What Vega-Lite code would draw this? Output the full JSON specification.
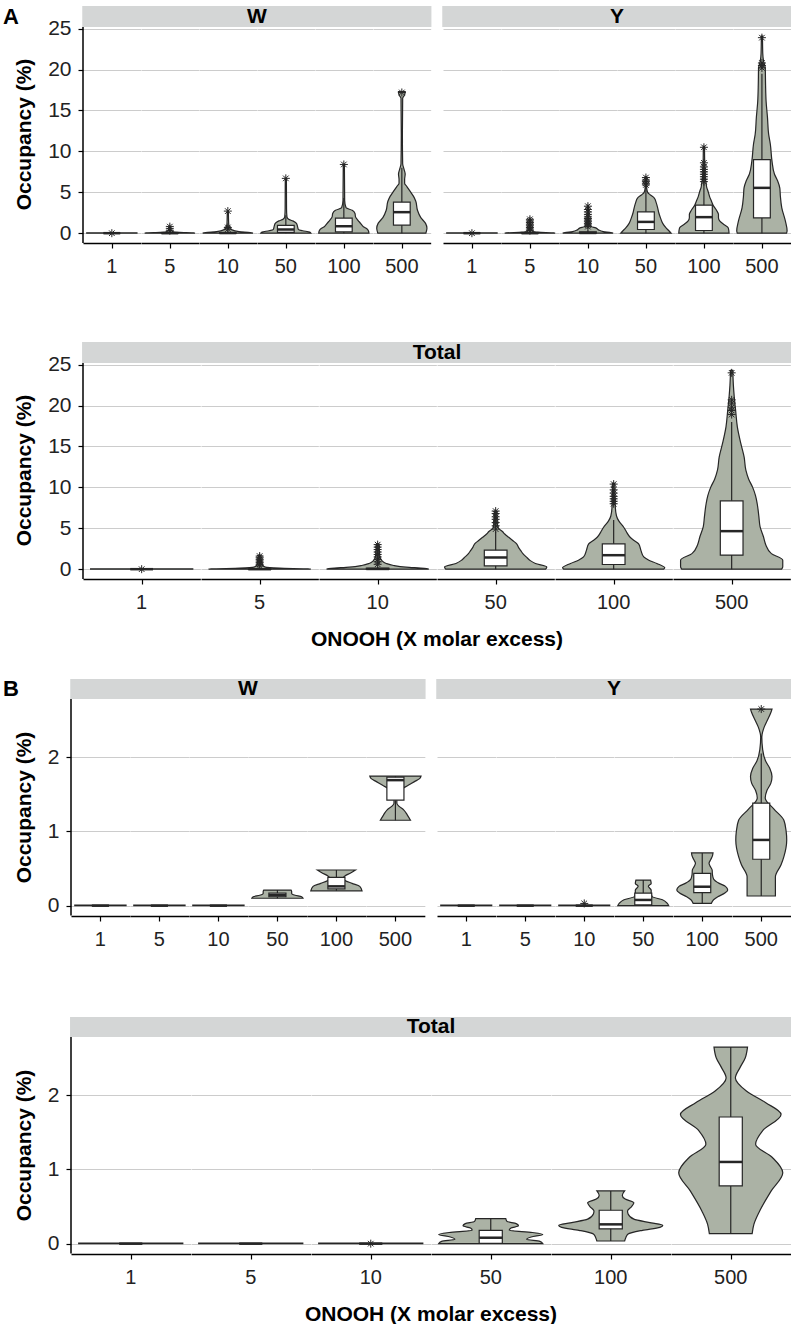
{
"$schema":"https://vega.github.io/schema/vega-lite/v6.json",
"padding":{"left":0,"top":5,"right":0,"bottom":0},
"background":"white",
"config":{"font":"Liberation Sans","view":{"stroke":null},"header":{"labelOrient":"bottom","labelFontSize":20,"labelColor":"#222","labelPadding":8,"titleOrient":"bottom","titleFontSize":21,"titleFontWeight":"bold","titleColor":"#000","titlePadding":6}},
"datasets":{
"aw":[
{"k":"s","g":"1"},{"k":"s","g":"5"},{"k":"s","g":"10"},{"k":"s","g":"50","t":"W"},{"k":"s","g":"100"},{"k":"s","g":"500"},
{"k":"v","g":"1","v":0,"d":0.9},{"k":"v","g":"1","v":0.05,"d":0.9},
{"k":"v","g":"5","v":0,"d":0.9},{"k":"v","g":"5","v":0.04,"d":0.85},{"k":"v","g":"5","v":0.1,"d":0.35},{"k":"v","g":"5","v":0.2,"d":0.1},{"k":"v","g":"5","v":0.4,"d":0.04},{"k":"v","g":"5","v":0.8,"d":0.02},
{"k":"v","g":"10","v":0,"d":0.9},{"k":"v","g":"10","v":0.08,"d":0.8},{"k":"v","g":"10","v":0.2,"d":0.4},{"k":"v","g":"10","v":0.4,"d":0.15},{"k":"v","g":"10","v":0.7,"d":0.06},{"k":"v","g":"10","v":1.2,"d":0.03},{"k":"v","g":"10","v":2.7,"d":0.02},
{"k":"v","g":"50","v":0,"d":0.9},{"k":"v","g":"50","v":0.15,"d":0.85},{"k":"v","g":"50","v":0.3,"d":0.6},{"k":"v","g":"50","v":0.45,"d":0.45},{"k":"v","g":"50","v":0.8,"d":0.42},{"k":"v","g":"50","v":1.2,"d":0.38},{"k":"v","g":"50","v":1.5,"d":0.25},{"k":"v","g":"50","v":1.7,"d":0.1},{"k":"v","g":"50","v":2.0,"d":0.04},{"k":"v","g":"50","v":3,"d":0.025},{"k":"v","g":"50","v":6.7,"d":0.02},
{"k":"v","g":"100","v":0,"d":0.9},{"k":"v","g":"100","v":0.3,"d":0.88},{"k":"v","g":"100","v":0.6,"d":0.8},{"k":"v","g":"100","v":0.8,"d":0.7},{"k":"v","g":"100","v":1.2,"d":0.6},{"k":"v","g":"100","v":1.6,"d":0.5},{"k":"v","g":"100","v":2.0,"d":0.42},{"k":"v","g":"100","v":2.4,"d":0.4},{"k":"v","g":"100","v":2.8,"d":0.3},{"k":"v","g":"100","v":3.1,"d":0.08},{"k":"v","g":"100","v":4,"d":0.03},{"k":"v","g":"100","v":8.4,"d":0.02},
{"k":"v","g":"500","v":0,"d":0.86},{"k":"v","g":"500","v":0.6,"d":0.9},{"k":"v","g":"500","v":1.2,"d":0.85},{"k":"v","g":"500","v":1.9,"d":0.68},{"k":"v","g":"500","v":2.8,"d":0.56},{"k":"v","g":"500","v":3.9,"d":0.5},{"k":"v","g":"500","v":4.5,"d":0.42},{"k":"v","g":"500","v":5.1,"d":0.3},{"k":"v","g":"500","v":5.7,"d":0.18},{"k":"v","g":"500","v":6.1,"d":0.1},{"k":"v","g":"500","v":6.6,"d":0.1},{"k":"v","g":"500","v":7.2,"d":0.12},{"k":"v","g":"500","v":7.8,"d":0.08},{"k":"v","g":"500","v":8.5,"d":0.03},{"k":"v","g":"500","v":12,"d":0.02},{"k":"v","g":"500","v":16.5,"d":0.03},{"k":"v","g":"500","v":16.9,"d":0.1},{"k":"v","g":"500","v":17.3,"d":0.12},
{"k":"b","g":"1","q1":0,"med":0,"q3":0,"lo":0,"hi":0},{"k":"b","g":"5","q1":0,"med":0,"q3":0.02,"lo":0,"hi":0.05},{"k":"b","g":"10","q1":0,"med":0.02,"q3":0.08,"lo":0,"hi":0.2},{"k":"b","g":"50","q1":0.1,"med":0.45,"q3":0.95,"lo":0,"hi":2.2},{"k":"b","g":"100","q1":0.15,"med":0.85,"q3":1.85,"lo":0,"hi":4.3},{"k":"b","g":"500","q1":0.98,"med":2.57,"q3":3.8,"lo":0,"hi":8.0},
{"k":"o","g":"1","v":0},{"k":"o","g":"5","v":0.3},{"k":"o","g":"5","v":0.55},{"k":"o","g":"5","v":0.8},{"k":"o","g":"10","v":0.5},{"k":"o","g":"10","v":0.7},{"k":"o","g":"10","v":2.7},{"k":"o","g":"50","v":6.7},{"k":"o","g":"100","v":8.4},{"k":"o","g":"500","v":17.2}
],
"ay":[
{"k":"s","g":"1"},{"k":"s","g":"5"},{"k":"s","g":"10"},{"k":"s","g":"50","t":"Y"},{"k":"s","g":"100"},{"k":"s","g":"500"},
{"k":"v","g":"1","v":0,"d":0.9},{"k":"v","g":"1","v":0.05,"d":0.9},
{"k":"v","g":"5","v":0,"d":0.9},{"k":"v","g":"5","v":0.04,"d":0.85},{"k":"v","g":"5","v":0.12,"d":0.3},{"k":"v","g":"5","v":0.25,"d":0.1},{"k":"v","g":"5","v":0.6,"d":0.04},{"k":"v","g":"5","v":1.7,"d":0.02},
{"k":"v","g":"10","v":0,"d":0.9},{"k":"v","g":"10","v":0.08,"d":0.82},{"k":"v","g":"10","v":0.2,"d":0.55},{"k":"v","g":"10","v":0.4,"d":0.38},{"k":"v","g":"10","v":0.65,"d":0.28},{"k":"v","g":"10","v":0.8,"d":0.12},{"k":"v","g":"10","v":1.2,"d":0.05},{"k":"v","g":"10","v":2,"d":0.03},{"k":"v","g":"10","v":3.4,"d":0.02},
{"k":"v","g":"50","v":0,"d":0.9},{"k":"v","g":"50","v":0.3,"d":0.82},{"k":"v","g":"50","v":0.65,"d":0.72},{"k":"v","g":"50","v":1.2,"d":0.6},{"k":"v","g":"50","v":1.87,"d":0.52},{"k":"v","g":"50","v":2.5,"d":0.46},{"k":"v","g":"50","v":3.1,"d":0.42},{"k":"v","g":"50","v":3.7,"d":0.37},{"k":"v","g":"50","v":4.3,"d":0.3},{"k":"v","g":"50","v":4.7,"d":0.15},{"k":"v","g":"50","v":5.0,"d":0.06},{"k":"v","g":"50","v":5.5,"d":0.03},{"k":"v","g":"50","v":6.9,"d":0.02},
{"k":"v","g":"100","v":0,"d":0.9},{"k":"v","g":"100","v":0.65,"d":0.87},{"k":"v","g":"100","v":1.1,"d":0.7},{"k":"v","g":"100","v":1.47,"d":0.57},{"k":"v","g":"100","v":1.9,"d":0.52},{"k":"v","g":"100","v":2.3,"d":0.52},{"k":"v","g":"100","v":2.8,"d":0.45},{"k":"v","g":"100","v":3.4,"d":0.33},{"k":"v","g":"100","v":3.9,"d":0.27},{"k":"v","g":"100","v":4.5,"d":0.2},{"k":"v","g":"100","v":5.1,"d":0.15},{"k":"v","g":"100","v":5.6,"d":0.1},{"k":"v","g":"100","v":6.1,"d":0.08},{"k":"v","g":"100","v":7,"d":0.04},{"k":"v","g":"100","v":10.6,"d":0.02},
{"k":"v","g":"500","v":0,"d":0.88},{"k":"v","g":"500","v":0.3,"d":0.9},{"k":"v","g":"500","v":1.47,"d":0.84},{"k":"v","g":"500","v":3.1,"d":0.71},{"k":"v","g":"500","v":4.5,"d":0.66},{"k":"v","g":"500","v":5.5,"d":0.64},{"k":"v","g":"500","v":6.4,"d":0.56},{"k":"v","g":"500","v":7.2,"d":0.45},{"k":"v","g":"500","v":8.8,"d":0.36},{"k":"v","g":"500","v":10.9,"d":0.3},{"k":"v","g":"500","v":12.1,"d":0.24},{"k":"v","g":"500","v":14.1,"d":0.2},{"k":"v","g":"500","v":16.1,"d":0.15},{"k":"v","g":"500","v":18.2,"d":0.13},{"k":"v","g":"500","v":20.2,"d":0.12},{"k":"v","g":"500","v":21,"d":0.06},{"k":"v","g":"500","v":22,"d":0.03},{"k":"v","g":"500","v":24.1,"d":0.02},
{"k":"b","g":"1","q1":0,"med":0,"q3":0,"lo":0,"hi":0},{"k":"b","g":"5","q1":0,"med":0,"q3":0.05,"lo":0,"hi":0.1},{"k":"b","g":"10","q1":0,"med":0.03,"q3":0.15,"lo":0,"hi":0.35},{"k":"b","g":"50","q1":0.45,"med":1.38,"q3":2.6,"lo":0,"hi":5.8},{"k":"b","g":"100","q1":0.33,"med":1.96,"q3":3.42,"lo":0,"hi":6.2},{"k":"b","g":"500","q1":1.87,"med":5.54,"q3":9.0,"lo":0,"hi":19.5},
{"k":"o","g":"1","v":0},
{"k":"o","g":"5","v":0.3},{"k":"o","g":"5","v":0.5},{"k":"o","g":"5","v":0.7},{"k":"o","g":"5","v":0.9},{"k":"o","g":"5","v":1.1},{"k":"o","g":"5","v":1.3},{"k":"o","g":"5","v":1.5},{"k":"o","g":"5","v":1.7},
{"k":"o","g":"10","v":0.8},{"k":"o","g":"10","v":1.0},{"k":"o","g":"10","v":1.2},{"k":"o","g":"10","v":1.4},{"k":"o","g":"10","v":1.6},{"k":"o","g":"10","v":1.8},{"k":"o","g":"10","v":2.0},{"k":"o","g":"10","v":2.3},{"k":"o","g":"10","v":2.6},{"k":"o","g":"10","v":2.9},{"k":"o","g":"10","v":3.3},
{"k":"o","g":"50","v":5.9},{"k":"o","g":"50","v":6.1},{"k":"o","g":"50","v":6.3},{"k":"o","g":"50","v":6.5},{"k":"o","g":"50","v":6.8},
{"k":"o","g":"100","v":6.3},{"k":"o","g":"100","v":6.6},{"k":"o","g":"100","v":6.9},{"k":"o","g":"100","v":7.2},{"k":"o","g":"100","v":7.5},{"k":"o","g":"100","v":7.8},{"k":"o","g":"100","v":8.1},{"k":"o","g":"100","v":8.6},{"k":"o","g":"100","v":10.5},
{"k":"o","g":"500","v":20.2},{"k":"o","g":"500","v":20.5},{"k":"o","g":"500","v":20.8},{"k":"o","g":"500","v":23.9}
],
"at":[
{"k":"s","g":"1"},{"k":"s","g":"5"},{"k":"s","g":"10"},{"k":"s","g":"50","t":"Total"},{"k":"s","g":"100"},{"k":"s","g":"500"},
{"k":"v","g":"1","v":0,"d":0.9},{"k":"v","g":"1","v":0.05,"d":0.9},
{"k":"v","g":"5","v":0,"d":0.9},{"k":"v","g":"5","v":0.04,"d":0.85},{"k":"v","g":"5","v":0.12,"d":0.35},{"k":"v","g":"5","v":0.25,"d":0.1},{"k":"v","g":"5","v":0.5,"d":0.05},{"k":"v","g":"5","v":1.0,"d":0.03},{"k":"v","g":"5","v":1.7,"d":0.02},
{"k":"v","g":"10","v":0,"d":0.9},{"k":"v","g":"10","v":0.1,"d":0.82},{"k":"v","g":"10","v":0.25,"d":0.5},{"k":"v","g":"10","v":0.45,"d":0.28},{"k":"v","g":"10","v":0.7,"d":0.15},{"k":"v","g":"10","v":1.0,"d":0.08},{"k":"v","g":"10","v":1.5,"d":0.04},{"k":"v","g":"10","v":2.2,"d":0.03},{"k":"v","g":"10","v":3.1,"d":0.02},
{"k":"v","g":"50","v":0,"d":0.88},{"k":"v","g":"50","v":0.28,"d":0.9},{"k":"v","g":"50","v":0.7,"d":0.7},{"k":"v","g":"50","v":1.1,"d":0.6},{"k":"v","g":"50","v":1.5,"d":0.54},{"k":"v","g":"50","v":1.9,"d":0.48},{"k":"v","g":"50","v":2.3,"d":0.44},{"k":"v","g":"50","v":2.7,"d":0.4},{"k":"v","g":"50","v":3.1,"d":0.37},{"k":"v","g":"50","v":3.5,"d":0.3},{"k":"v","g":"50","v":3.9,"d":0.23},{"k":"v","g":"50","v":4.3,"d":0.16},{"k":"v","g":"50","v":4.6,"d":0.12},{"k":"v","g":"50","v":5.0,"d":0.05},{"k":"v","g":"50","v":5.5,"d":0.03},{"k":"v","g":"50","v":7.1,"d":0.02},
{"k":"v","g":"100","v":0,"d":0.88},{"k":"v","g":"100","v":0.16,"d":0.9},{"k":"v","g":"100","v":0.7,"d":0.76},{"k":"v","g":"100","v":1.1,"d":0.62},{"k":"v","g":"100","v":1.5,"d":0.53},{"k":"v","g":"100","v":2.3,"d":0.48},{"k":"v","g":"100","v":3.1,"d":0.44},{"k":"v","g":"100","v":3.5,"d":0.36},{"k":"v","g":"100","v":3.9,"d":0.29},{"k":"v","g":"100","v":4.5,"d":0.23},{"k":"v","g":"100","v":5.1,"d":0.18},{"k":"v","g":"100","v":5.9,"d":0.09},{"k":"v","g":"100","v":6.5,"d":0.05},{"k":"v","g":"100","v":7.5,"d":0.03},{"k":"v","g":"100","v":10.5,"d":0.02},
{"k":"v","g":"500","v":0,"d":0.88},{"k":"v","g":"500","v":0.3,"d":0.9},{"k":"v","g":"500","v":1.1,"d":0.9},{"k":"v","g":"500","v":1.9,"d":0.7},{"k":"v","g":"500","v":3.0,"d":0.6},{"k":"v","g":"500","v":3.96,"d":0.56},{"k":"v","g":"500","v":5.2,"d":0.5},{"k":"v","g":"500","v":6.4,"d":0.48},{"k":"v","g":"500","v":8.0,"d":0.45},{"k":"v","g":"500","v":9.0,"d":0.42},{"k":"v","g":"500","v":10.0,"d":0.37},{"k":"v","g":"500","v":11.0,"d":0.3},{"k":"v","g":"500","v":12.1,"d":0.25},{"k":"v","g":"500","v":13.7,"d":0.22},{"k":"v","g":"500","v":15.4,"d":0.16},{"k":"v","g":"500","v":17.4,"d":0.1},{"k":"v","g":"500","v":19.4,"d":0.07},{"k":"v","g":"500","v":21.1,"d":0.045},{"k":"v","g":"500","v":22.5,"d":0.03},{"k":"v","g":"500","v":24.3,"d":0.02},
{"k":"b","g":"1","q1":0,"med":0,"q3":0,"lo":0,"hi":0},{"k":"b","g":"5","q1":0,"med":0,"q3":0.03,"lo":0,"hi":0.08},{"k":"b","g":"10","q1":0,"med":0.03,"q3":0.12,"lo":0,"hi":0.3},{"k":"b","g":"50","q1":0.4,"med":1.43,"q3":2.32,"lo":0,"hi":4.6},{"k":"b","g":"100","q1":0.57,"med":1.71,"q3":3.1,"lo":0,"hi":6.0},{"k":"b","g":"500","q1":1.72,"med":4.65,"q3":8.36,"lo":0,"hi":18.0},
{"k":"o","g":"1","v":0},
{"k":"o","g":"5","v":0.4},{"k":"o","g":"5","v":0.6},{"k":"o","g":"5","v":0.8},{"k":"o","g":"5","v":1.0},{"k":"o","g":"5","v":1.2},{"k":"o","g":"5","v":1.4},{"k":"o","g":"5","v":1.6},
{"k":"o","g":"10","v":0.6},{"k":"o","g":"10","v":0.9},{"k":"o","g":"10","v":1.2},{"k":"o","g":"10","v":1.5},{"k":"o","g":"10","v":1.8},{"k":"o","g":"10","v":2.1},{"k":"o","g":"10","v":2.4},{"k":"o","g":"10","v":2.7},{"k":"o","g":"10","v":3.0},
{"k":"o","g":"50","v":4.9},{"k":"o","g":"50","v":5.3},{"k":"o","g":"50","v":5.7},{"k":"o","g":"50","v":6.1},{"k":"o","g":"50","v":6.4},{"k":"o","g":"50","v":6.8},{"k":"o","g":"50","v":7.1},
{"k":"o","g":"100","v":8.0},{"k":"o","g":"100","v":8.3},{"k":"o","g":"100","v":8.6},{"k":"o","g":"100","v":8.9},{"k":"o","g":"100","v":9.3},{"k":"o","g":"100","v":9.7},{"k":"o","g":"100","v":10.4},
{"k":"o","g":"500","v":18.9},{"k":"o","g":"500","v":19.4},{"k":"o","g":"500","v":19.8},{"k":"o","g":"500","v":20.3},{"k":"o","g":"500","v":20.7},{"k":"o","g":"500","v":24.0}
],
"bw":[
{"k":"s","g":"1"},{"k":"s","g":"5"},{"k":"s","g":"10"},{"k":"s","g":"50","t":"W"},{"k":"s","g":"100"},{"k":"s","g":"500"},
{"k":"v","g":"1","v":0,"d":0.9},{"k":"v","g":"1","v":0.006,"d":0.9},
{"k":"v","g":"5","v":0,"d":0.9},{"k":"v","g":"5","v":0.006,"d":0.9},
{"k":"v","g":"10","v":0,"d":0.9},{"k":"v","g":"10","v":0.006,"d":0.9},
{"k":"v","g":"50","v":0.1,"d":0.9},{"k":"v","g":"50","v":0.12,"d":0.85},{"k":"v","g":"50","v":0.14,"d":0.62},{"k":"v","g":"50","v":0.165,"d":0.5},{"k":"v","g":"50","v":0.19,"d":0.5},{"k":"v","g":"50","v":0.21,"d":0.48},
{"k":"v","g":"100","v":0.2,"d":0.9},{"k":"v","g":"100","v":0.26,"d":0.82},{"k":"v","g":"100","v":0.3,"d":0.55},{"k":"v","g":"100","v":0.34,"d":0.3},{"k":"v","g":"100","v":0.37,"d":0.23},{"k":"v","g":"100","v":0.4,"d":0.3},{"k":"v","g":"100","v":0.44,"d":0.5},{"k":"v","g":"100","v":0.48,"d":0.67},
{"k":"v","g":"500","v":1.15,"d":0.53},{"k":"v","g":"500","v":1.22,"d":0.42},{"k":"v","g":"500","v":1.29,"d":0.29},{"k":"v","g":"500","v":1.34,"d":0.12},{"k":"v","g":"500","v":1.38,"d":0.05},{"k":"v","g":"500","v":1.45,"d":0.05},{"k":"v","g":"500","v":1.5,"d":0.1},{"k":"v","g":"500","v":1.56,"d":0.18},{"k":"v","g":"500","v":1.62,"d":0.45},{"k":"v","g":"500","v":1.67,"d":0.67},{"k":"v","g":"500","v":1.71,"d":0.85},{"k":"v","g":"500","v":1.745,"d":0.9},
{"k":"b","g":"1","q1":0,"med":0,"q3":0,"lo":0,"hi":0},{"k":"b","g":"5","q1":0,"med":0,"q3":0,"lo":0,"hi":0},{"k":"b","g":"10","q1":0,"med":0,"q3":0,"lo":0,"hi":0},{"k":"b","g":"50","q1":0.12,"med":0.14,"q3":0.17,"lo":0.1,"hi":0.21},{"k":"b","g":"100","q1":0.225,"med":0.26,"q3":0.38,"lo":0.2,"hi":0.48},{"k":"b","g":"500","q1":1.42,"med":1.69,"q3":1.73,"lo":1.15,"hi":1.745}
],
"by":[
{"k":"s","g":"1"},{"k":"s","g":"5"},{"k":"s","g":"10"},{"k":"s","g":"50","t":"Y"},{"k":"s","g":"100"},{"k":"s","g":"500"},
{"k":"v","g":"1","v":0,"d":0.9},{"k":"v","g":"1","v":0.006,"d":0.9},
{"k":"v","g":"5","v":0,"d":0.9},{"k":"v","g":"5","v":0.006,"d":0.9},
{"k":"v","g":"10","v":0,"d":0.9},{"k":"v","g":"10","v":0.006,"d":0.9},
{"k":"v","g":"50","v":0,"d":0.9},{"k":"v","g":"50","v":0.03,"d":0.85},{"k":"v","g":"50","v":0.08,"d":0.68},{"k":"v","g":"50","v":0.12,"d":0.32},{"k":"v","g":"50","v":0.16,"d":0.28},{"k":"v","g":"50","v":0.21,"d":0.28},{"k":"v","g":"50","v":0.26,"d":0.18},{"k":"v","g":"50","v":0.3,"d":0.28},{"k":"v","g":"50","v":0.345,"d":0.26},
{"k":"v","g":"100","v":0.03,"d":0.32},{"k":"v","g":"100","v":0.08,"d":0.4},{"k":"v","g":"100","v":0.12,"d":0.55},{"k":"v","g":"100","v":0.17,"d":0.8},{"k":"v","g":"100","v":0.21,"d":0.9},{"k":"v","g":"100","v":0.26,"d":0.82},{"k":"v","g":"100","v":0.3,"d":0.6},{"k":"v","g":"100","v":0.36,"d":0.4},{"k":"v","g":"100","v":0.42,"d":0.36},{"k":"v","g":"100","v":0.48,"d":0.35},{"k":"v","g":"100","v":0.53,"d":0.28},{"k":"v","g":"100","v":0.57,"d":0.24},{"k":"v","g":"100","v":0.62,"d":0.3},{"k":"v","g":"100","v":0.67,"d":0.36},{"k":"v","g":"100","v":0.71,"d":0.38},
{"k":"v","g":"500","v":0.13,"d":0.5},{"k":"v","g":"500","v":0.39,"d":0.5},{"k":"v","g":"500","v":0.55,"d":0.7},{"k":"v","g":"500","v":0.66,"d":0.8},{"k":"v","g":"500","v":0.885,"d":0.9},{"k":"v","g":"500","v":1.0,"d":0.88},{"k":"v","g":"500","v":1.15,"d":0.8},{"k":"v","g":"500","v":1.3,"d":0.45},{"k":"v","g":"500","v":1.45,"d":0.14},{"k":"v","g":"500","v":1.55,"d":0.2},{"k":"v","g":"500","v":1.65,"d":0.34},{"k":"v","g":"500","v":1.74,"d":0.38},{"k":"v","g":"500","v":1.85,"d":0.3},{"k":"v","g":"500","v":1.95,"d":0.15},{"k":"v","g":"500","v":2.1,"d":0.05},{"k":"v","g":"500","v":2.27,"d":0.02},{"k":"v","g":"500","v":2.4,"d":0.1},{"k":"v","g":"500","v":2.5,"d":0.22},{"k":"v","g":"500","v":2.6,"d":0.34},{"k":"v","g":"500","v":2.647,"d":0.38},
{"k":"b","g":"1","q1":0,"med":0,"q3":0,"lo":0,"hi":0},{"k":"b","g":"5","q1":0,"med":0,"q3":0,"lo":0,"hi":0},{"k":"b","g":"10","q1":0,"med":0,"q3":0,"lo":0,"hi":0},{"k":"b","g":"50","q1":0.01,"med":0.077,"q3":0.17,"lo":0,"hi":0.345},{"k":"b","g":"100","q1":0.175,"med":0.255,"q3":0.435,"lo":0.03,"hi":0.71},{"k":"b","g":"500","q1":0.625,"med":0.885,"q3":1.38,"lo":0.13,"hi":2.05},
{"k":"o","g":"10","v":0.03},{"k":"o","g":"500","v":2.647}
],
"bt":[
{"k":"s","g":"1"},{"k":"s","g":"5"},{"k":"s","g":"10"},{"k":"s","g":"50","t":"Total"},{"k":"s","g":"100"},{"k":"s","g":"500"},
{"k":"v","g":"1","v":0,"d":0.9},{"k":"v","g":"1","v":0.006,"d":0.9},
{"k":"v","g":"5","v":0,"d":0.9},{"k":"v","g":"5","v":0.006,"d":0.9},
{"k":"v","g":"10","v":0,"d":0.9},{"k":"v","g":"10","v":0.006,"d":0.9},
{"k":"v","g":"50","v":0,"d":0.9},{"k":"v","g":"50","v":0.03,"d":0.85},{"k":"v","g":"50","v":0.06,"d":0.62},{"k":"v","g":"50","v":0.09,"d":0.7},{"k":"v","g":"50","v":0.125,"d":0.9},{"k":"v","g":"50","v":0.15,"d":0.72},{"k":"v","g":"50","v":0.18,"d":0.32},{"k":"v","g":"50","v":0.21,"d":0.35},{"k":"v","g":"50","v":0.24,"d":0.48},{"k":"v","g":"50","v":0.27,"d":0.44},{"k":"v","g":"50","v":0.3,"d":0.28},{"k":"v","g":"50","v":0.336,"d":0.26},
{"k":"v","g":"100","v":0.036,"d":0.24},{"k":"v","g":"100","v":0.08,"d":0.26},{"k":"v","g":"100","v":0.13,"d":0.3},{"k":"v","g":"100","v":0.18,"d":0.55},{"k":"v","g":"100","v":0.22,"d":0.85},{"k":"v","g":"100","v":0.245,"d":0.9},{"k":"v","g":"100","v":0.28,"d":0.7},{"k":"v","g":"100","v":0.33,"d":0.4},{"k":"v","g":"100","v":0.4,"d":0.3},{"k":"v","g":"100","v":0.44,"d":0.29},{"k":"v","g":"100","v":0.5,"d":0.36},{"k":"v","g":"100","v":0.55,"d":0.4},{"k":"v","g":"100","v":0.6,"d":0.25},{"k":"v","g":"100","v":0.65,"d":0.2},{"k":"v","g":"100","v":0.71,"d":0.24},
{"k":"v","g":"500","v":0.135,"d":0.37},{"k":"v","g":"500","v":0.26,"d":0.4},{"k":"v","g":"500","v":0.44,"d":0.5},{"k":"v","g":"500","v":0.71,"d":0.7},{"k":"v","g":"500","v":0.955,"d":0.9},{"k":"v","g":"500","v":1.16,"d":0.72},{"k":"v","g":"500","v":1.34,"d":0.43},{"k":"v","g":"500","v":1.52,"d":0.55},{"k":"v","g":"500","v":1.74,"d":0.87},{"k":"v","g":"500","v":1.9,"d":0.6},{"k":"v","g":"500","v":2.055,"d":0.27},{"k":"v","g":"500","v":2.23,"d":0.08},{"k":"v","g":"500","v":2.37,"d":0.16},{"k":"v","g":"500","v":2.5,"d":0.25},{"k":"v","g":"500","v":2.647,"d":0.29},
{"k":"b","g":"1","q1":0,"med":0,"q3":0,"lo":0,"hi":0},{"k":"b","g":"5","q1":0,"med":0,"q3":0,"lo":0,"hi":0},{"k":"b","g":"10","q1":0,"med":0,"q3":0,"lo":0,"hi":0},{"k":"b","g":"50","q1":0.005,"med":0.08,"q3":0.18,"lo":0,"hi":0.336},{"k":"b","g":"100","q1":0.2,"med":0.26,"q3":0.45,"lo":0.036,"hi":0.71},{"k":"b","g":"500","q1":0.777,"med":1.1,"q3":1.705,"lo":0.135,"hi":2.647},
{"k":"o","g":"10","v":0}
]
},
"vconcat":[
{"title":{"text":"A","anchor":"start","orient":"top","fontSize":22,"fontWeight":"bold","color":"#000","dx":3,"baseline":"top","offset":-23},
 "spacing":12,
 "hconcat":[
 {"width":1,"height":1,"data":{"values":[{}]},"mark":{"type":"point","opacity":0,"size":0,"strokeWidth":0},"encoding":{}},
 {"spacing":64,
 "vconcat":[
  {"hconcat":[
   {"data":{"name":"aw"},"spacing":0,"bounds":"flush",
    "facet":{"column":{"field":"g","type":"ordinal","sort":["1","5","10","50","100","500"],"title":null}},
    "spec":{"width":57.67,"height":237,"layer":[
     {"transform":[{"filter":{"field":"k","equal":"s"}}],"mark":{"type":"rect","fill":"#d4d6d6"},"encoding":{"x":{"datum":-0.08,"type":"quantitative"},"x2":{"datum":0.98},"y":{"datum":25.2,"type":"quantitative"},"y2":{"datum":27.77}}},
     {"transform":[{"filter":{"field":"k","equal":"v"}}],"mark":{"type":"area","orient":"horizontal","fill":"#abb2a5","stroke":"#262626","strokeWidth":1.2,"interpolate":"monotone"},
      "encoding":{"x":{"field":"d","type":"quantitative","stack":"center","impute":null,"title":null,"scale":{"domain":[-0.0667,0.9667],"nice":false,"zero":false},"axis":{"values":[0.45],"labels":false,"ticks":true,"tickSize":5,"tickColor":"#000","tickWidth":1.2,"domain":true,"domainColor":"#000","domainWidth":1.5,"grid":false}},
       "y":{"field":"v","type":"quantitative","title":"Occupancy (%)","scale":{"domain":[-1.2,27.77],"nice":false,"zero":false},"axis":{"values":[0,5,10,15,20,25],"format":"d","grid":true,"gridColor":"#cccccc","domain":false,"tickSize":5,"tickColor":"#000","tickWidth":1.2,"labelFontSize":21,"labelColor":"#222","labelPadding":7,"titleFontSize":21,"titleFontWeight":"bold","titleColor":"#000","titlePadding":13,"titleY":128}}}},
     {"transform":[{"filter":{"field":"k","equal":"b"}}],"mark":{"type":"rule","color":"#262626","strokeWidth":1.2},"encoding":{"x":{"datum":0.45,"type":"quantitative"},"y":{"field":"lo","type":"quantitative","title":"Occupancy (%)"},"y2":{"field":"hi"}}},
     {"transform":[{"filter":{"field":"k","equal":"b"}}],"mark":{"type":"rect","fill":"white","stroke":"#262626","strokeWidth":1.2},"encoding":{"x":{"datum":0.3,"type":"quantitative"},"x2":{"datum":0.6},"y":{"field":"q1","type":"quantitative","title":"Occupancy (%)"},"y2":{"field":"q3"}}},
     {"transform":[{"filter":{"field":"k","equal":"b"}}],"mark":{"type":"rule","color":"#262626","strokeWidth":2.5},"encoding":{"x":{"datum":0.3,"type":"quantitative"},"x2":{"datum":0.6},"y":{"field":"med","type":"quantitative","title":"Occupancy (%)"}}},
     {"transform":[{"filter":{"field":"k","equal":"o"}}],"mark":{"type":"point","shape":"M0,-1L0,1M-1,0L1,0M-0.7,-0.7L0.7,0.7M-0.7,0.7L0.7,-0.7","size":64,"filled":false,"stroke":"#262626","strokeWidth":1,"opacity":1},"encoding":{"x":{"datum":0.45,"type":"quantitative"},"y":{"field":"v","type":"quantitative","title":"Occupancy (%)"}}},
     {"transform":[{"filter":{"field":"k","equal":"s"}},{"filter":{"field":"g","equal":"1"}}],"mark":{"type":"rule","color":"#000","strokeWidth":1.5},"encoding":{"x":{"datum":-0.0667,"type":"quantitative"},"y":{"datum":-1.2,"type":"quantitative"},"y2":{"datum":25.2}}},
     {"transform":[{"filter":{"field":"k","equal":"s"}},{"filter":{"field":"g","equal":"50"}}],"mark":{"type":"text","fontSize":21,"fontWeight":"bold","color":"#000","baseline":"middle","align":"center"},"encoding":{"x":{"datum":-0.0667,"type":"quantitative"},"y":{"datum":26.48,"type":"quantitative"},"text":{"field":"t"}}}
    ]}},
   {"data":{"name":"ay"},"spacing":0,"bounds":"flush",
    "facet":{"column":{"field":"g","type":"ordinal","sort":["1","5","10","50","100","500"],"title":null}},
    "spec":{"width":57.83,"height":237,"layer":[
     {"transform":[{"filter":{"field":"k","equal":"s"}}],"mark":{"type":"rect","fill":"#d4d6d6"},"encoding":{"x":{"datum":-0.08,"type":"quantitative"},"x2":{"datum":0.98},"y":{"datum":25.2,"type":"quantitative"},"y2":{"datum":27.77}}},
     {"transform":[{"filter":{"field":"k","equal":"v"}}],"mark":{"type":"area","orient":"horizontal","fill":"#abb2a5","stroke":"#262626","strokeWidth":1.2,"interpolate":"monotone"},
      "encoding":{"x":{"field":"d","type":"quantitative","stack":"center","impute":null,"title":null,"scale":{"domain":[-0.0667,0.9667],"nice":false,"zero":false},"axis":{"values":[0.45],"labels":false,"ticks":true,"tickSize":5,"tickColor":"#000","tickWidth":1.2,"domain":true,"domainColor":"#000","domainWidth":1.5,"grid":false}},
       "y":{"field":"v","type":"quantitative","title":null,"scale":{"domain":[-1.2,27.77],"nice":false,"zero":false},"axis":{"values":[0,5,10,15,20,25],"grid":true,"gridColor":"#cccccc","domain":false,"ticks":false,"labels":false,"minExtent":0}}}},
     {"transform":[{"filter":{"field":"k","equal":"b"}}],"mark":{"type":"rule","color":"#262626","strokeWidth":1.2},"encoding":{"x":{"datum":0.45,"type":"quantitative"},"y":{"field":"lo","type":"quantitative","title":null},"y2":{"field":"hi"}}},
     {"transform":[{"filter":{"field":"k","equal":"b"}}],"mark":{"type":"rect","fill":"white","stroke":"#262626","strokeWidth":1.2},"encoding":{"x":{"datum":0.3,"type":"quantitative"},"x2":{"datum":0.6},"y":{"field":"q1","type":"quantitative","title":null},"y2":{"field":"q3"}}},
     {"transform":[{"filter":{"field":"k","equal":"b"}}],"mark":{"type":"rule","color":"#262626","strokeWidth":2.5},"encoding":{"x":{"datum":0.3,"type":"quantitative"},"x2":{"datum":0.6},"y":{"field":"med","type":"quantitative","title":null}}},
     {"transform":[{"filter":{"field":"k","equal":"o"}}],"mark":{"type":"point","shape":"M0,-1L0,1M-1,0L1,0M-0.7,-0.7L0.7,0.7M-0.7,0.7L0.7,-0.7","size":64,"filled":false,"stroke":"#262626","strokeWidth":1,"opacity":1},"encoding":{"x":{"datum":0.45,"type":"quantitative"},"y":{"field":"v","type":"quantitative","title":null}}},
     {"transform":[{"filter":{"field":"k","equal":"s"}},{"filter":{"field":"g","equal":"50"}}],"mark":{"type":"text","fontSize":21,"fontWeight":"bold","color":"#000","baseline":"middle","align":"center"},"encoding":{"x":{"datum":-0.0667,"type":"quantitative"},"y":{"datum":26.48,"type":"quantitative"},"text":{"field":"t"}}}
    ]}}
  ],"spacing":10},
  {"data":{"name":"at"},"spacing":0,"bounds":"flush",
    "facet":{"column":{"field":"g","type":"ordinal","sort":["1","5","10","50","100","500"],"title":"ONOOH (X molar excess)"}},
    "spec":{"width":117.33,"height":237,"layer":[
     {"transform":[{"filter":{"field":"k","equal":"s"}}],"mark":{"type":"rect","fill":"#d4d6d6"},"encoding":{"x":{"datum":-0.075,"type":"quantitative"},"x2":{"datum":0.975},"y":{"datum":25.2,"type":"quantitative"},"y2":{"datum":27.77}}},
     {"transform":[{"filter":{"field":"k","equal":"v"}}],"mark":{"type":"area","orient":"horizontal","fill":"#abb2a5","stroke":"#262626","strokeWidth":1.2,"interpolate":"monotone"},
      "encoding":{"x":{"field":"d","type":"quantitative","stack":"center","impute":null,"title":null,"scale":{"domain":[-0.0667,0.9667],"nice":false,"zero":false},"axis":{"values":[0.45],"labels":false,"ticks":true,"tickSize":5,"tickColor":"#000","tickWidth":1.2,"domain":true,"domainColor":"#000","domainWidth":1.5,"grid":false}},
       "y":{"field":"v","type":"quantitative","title":"Occupancy (%)","scale":{"domain":[-1.2,27.77],"nice":false,"zero":false},"axis":{"values":[0,5,10,15,20,25],"format":"d","grid":true,"gridColor":"#cccccc","domain":false,"tickSize":5,"tickColor":"#000","tickWidth":1.2,"labelFontSize":21,"labelColor":"#222","labelPadding":7,"titleFontSize":21,"titleFontWeight":"bold","titleColor":"#000","titlePadding":13,"titleY":128}}}},
     {"transform":[{"filter":{"field":"k","equal":"b"}}],"mark":{"type":"rule","color":"#262626","strokeWidth":1.2},"encoding":{"x":{"datum":0.45,"type":"quantitative"},"y":{"field":"lo","type":"quantitative","title":"Occupancy (%)"},"y2":{"field":"hi"}}},
     {"transform":[{"filter":{"field":"k","equal":"b"}}],"mark":{"type":"rect","fill":"white","stroke":"#262626","strokeWidth":1.2},"encoding":{"x":{"datum":0.35,"type":"quantitative"},"x2":{"datum":0.55},"y":{"field":"q1","type":"quantitative","title":"Occupancy (%)"},"y2":{"field":"q3"}}},
     {"transform":[{"filter":{"field":"k","equal":"b"}}],"mark":{"type":"rule","color":"#262626","strokeWidth":2.5},"encoding":{"x":{"datum":0.35,"type":"quantitative"},"x2":{"datum":0.55},"y":{"field":"med","type":"quantitative","title":"Occupancy (%)"}}},
     {"transform":[{"filter":{"field":"k","equal":"o"}}],"mark":{"type":"point","shape":"M0,-1L0,1M-1,0L1,0M-0.7,-0.7L0.7,0.7M-0.7,0.7L0.7,-0.7","size":64,"filled":false,"stroke":"#262626","strokeWidth":1,"opacity":1},"encoding":{"x":{"datum":0.45,"type":"quantitative"},"y":{"field":"v","type":"quantitative","title":"Occupancy (%)"}}},
     {"transform":[{"filter":{"field":"k","equal":"s"}},{"filter":{"field":"g","equal":"1"}}],"mark":{"type":"rule","color":"#000","strokeWidth":1.5},"encoding":{"x":{"datum":-0.0667,"type":"quantitative"},"y":{"datum":-1.2,"type":"quantitative"},"y2":{"datum":25.2}}},
     {"transform":[{"filter":{"field":"k","equal":"s"}},{"filter":{"field":"g","equal":"50"}}],"mark":{"type":"text","fontSize":21,"fontWeight":"bold","color":"#000","baseline":"middle","align":"center"},"encoding":{"x":{"datum":-0.0667,"type":"quantitative"},"y":{"datum":26.48,"type":"quantitative"},"text":{"field":"t"}}}
    ]}}
 ]}]},
{"title":{"text":"B","anchor":"start","orient":"top","fontSize":22,"fontWeight":"bold","color":"#000","dx":3,"baseline":"top","offset":-23},
 "spacing":12,
 "hconcat":[
 {"width":1,"height":1,"data":{"values":[{}]},"mark":{"type":"point","opacity":0,"size":0,"strokeWidth":0},"encoding":{}},
 {"spacing":66,
 "vconcat":[
  {"hconcat":[
   {"data":{"name":"bw"},"spacing":0,"bounds":"flush",
    "facet":{"column":{"field":"g","type":"ordinal","sort":["1","5","10","50","100","500"],"title":null}},
    "spec":{"width":58.83,"height":236.5,"layer":[
     {"transform":[{"filter":{"field":"k","equal":"s"}}],"mark":{"type":"rect","fill":"#d4d6d6"},"encoding":{"x":{"datum":-0.08,"type":"quantitative"},"x2":{"datum":0.98},"y":{"datum":2.7825,"type":"quantitative"},"y2":{"datum":3.0517}}},
     {"transform":[{"filter":{"field":"k","equal":"v"}}],"mark":{"type":"area","orient":"horizontal","fill":"#abb2a5","stroke":"#262626","strokeWidth":1.2,"interpolate":"monotone"},
      "encoding":{"x":{"field":"d","type":"quantitative","stack":"center","impute":null,"title":null,"scale":{"domain":[-0.0667,0.9667],"nice":false,"zero":false},"axis":{"values":[0.45],"labels":false,"ticks":true,"tickSize":5,"tickColor":"#000","tickWidth":1.2,"domain":true,"domainColor":"#000","domainWidth":1.5,"grid":false}},
       "y":{"field":"v","type":"quantitative","title":"Occupancy (%)","scale":{"domain":[-0.1325,3.0517],"nice":false,"zero":false},"axis":{"values":[0,1,2],"format":"d","grid":true,"gridColor":"#cccccc","domain":false,"tickSize":5,"tickColor":"#000","tickWidth":1.2,"labelFontSize":21,"labelColor":"#222","labelPadding":7,"titleFontSize":21,"titleFontWeight":"bold","titleColor":"#000","titlePadding":13,"titleY":128}}}},
     {"transform":[{"filter":{"field":"k","equal":"b"}}],"mark":{"type":"rule","color":"#262626","strokeWidth":1.2},"encoding":{"x":{"datum":0.45,"type":"quantitative"},"y":{"field":"lo","type":"quantitative","title":"Occupancy (%)"},"y2":{"field":"hi"}}},
     {"transform":[{"filter":{"field":"k","equal":"b"}}],"mark":{"type":"rect","fill":"white","stroke":"#262626","strokeWidth":1.2},"encoding":{"x":{"datum":0.3,"type":"quantitative"},"x2":{"datum":0.6},"y":{"field":"q1","type":"quantitative","title":"Occupancy (%)"},"y2":{"field":"q3"}}},
     {"transform":[{"filter":{"field":"k","equal":"b"}}],"mark":{"type":"rule","color":"#262626","strokeWidth":2.5},"encoding":{"x":{"datum":0.3,"type":"quantitative"},"x2":{"datum":0.6},"y":{"field":"med","type":"quantitative","title":"Occupancy (%)"}}},
     {"transform":[{"filter":{"field":"k","equal":"s"}},{"filter":{"field":"g","equal":"1"}}],"mark":{"type":"rule","color":"#000","strokeWidth":1.5},"encoding":{"x":{"datum":-0.0667,"type":"quantitative"},"y":{"datum":-0.1325,"type":"quantitative"},"y2":{"datum":2.7825}}},
     {"transform":[{"filter":{"field":"k","equal":"s"}},{"filter":{"field":"g","equal":"50"}}],"mark":{"type":"text","fontSize":21,"fontWeight":"bold","color":"#000","baseline":"middle","align":"center"},"encoding":{"x":{"datum":-0.0667,"type":"quantitative"},"y":{"datum":2.917,"type":"quantitative"},"text":{"field":"t"}}}
    ]}},
   {"data":{"name":"by"},"spacing":0,"bounds":"flush",
    "facet":{"column":{"field":"g","type":"ordinal","sort":["1","5","10","50","100","500"],"title":null}},
    "spec":{"width":58.5,"height":236.5,"layer":[
     {"transform":[{"filter":{"field":"k","equal":"s"}}],"mark":{"type":"rect","fill":"#d4d6d6"},"encoding":{"x":{"datum":-0.08,"type":"quantitative"},"x2":{"datum":0.98},"y":{"datum":2.7825,"type":"quantitative"},"y2":{"datum":3.0517}}},
     {"transform":[{"filter":{"field":"k","equal":"v"}}],"mark":{"type":"area","orient":"horizontal","fill":"#abb2a5","stroke":"#262626","strokeWidth":1.2,"interpolate":"monotone"},
      "encoding":{"x":{"field":"d","type":"quantitative","stack":"center","impute":null,"title":null,"scale":{"domain":[-0.0667,0.9667],"nice":false,"zero":false},"axis":{"values":[0.45],"labels":false,"ticks":true,"tickSize":5,"tickColor":"#000","tickWidth":1.2,"domain":true,"domainColor":"#000","domainWidth":1.5,"grid":false}},
       "y":{"field":"v","type":"quantitative","title":null,"scale":{"domain":[-0.1325,3.0517],"nice":false,"zero":false},"axis":{"values":[0,1,2],"grid":true,"gridColor":"#cccccc","domain":false,"ticks":false,"labels":false,"minExtent":0}}}},
     {"transform":[{"filter":{"field":"k","equal":"b"}}],"mark":{"type":"rule","color":"#262626","strokeWidth":1.2},"encoding":{"x":{"datum":0.45,"type":"quantitative"},"y":{"field":"lo","type":"quantitative","title":null},"y2":{"field":"hi"}}},
     {"transform":[{"filter":{"field":"k","equal":"b"}}],"mark":{"type":"rect","fill":"white","stroke":"#262626","strokeWidth":1.2},"encoding":{"x":{"datum":0.3,"type":"quantitative"},"x2":{"datum":0.6},"y":{"field":"q1","type":"quantitative","title":null},"y2":{"field":"q3"}}},
     {"transform":[{"filter":{"field":"k","equal":"b"}}],"mark":{"type":"rule","color":"#262626","strokeWidth":2.5},"encoding":{"x":{"datum":0.3,"type":"quantitative"},"x2":{"datum":0.6},"y":{"field":"med","type":"quantitative","title":null}}},
     {"transform":[{"filter":{"field":"k","equal":"o"}}],"mark":{"type":"point","shape":"M0,-1L0,1M-1,0L1,0M-0.7,-0.7L0.7,0.7M-0.7,0.7L0.7,-0.7","size":64,"filled":false,"stroke":"#262626","strokeWidth":1,"opacity":1},"encoding":{"x":{"datum":0.45,"type":"quantitative"},"y":{"field":"v","type":"quantitative","title":null}}},
     {"transform":[{"filter":{"field":"k","equal":"s"}},{"filter":{"field":"g","equal":"50"}}],"mark":{"type":"text","fontSize":21,"fontWeight":"bold","color":"#000","baseline":"middle","align":"center"},"encoding":{"x":{"datum":-0.0667,"type":"quantitative"},"y":{"datum":2.917,"type":"quantitative"},"text":{"field":"t"}}}
    ]}}
  ],"spacing":10},
  {"data":{"name":"bt"},"spacing":0,"bounds":"flush",
    "facet":{"column":{"field":"g","type":"ordinal","sort":["1","5","10","50","100","500"],"title":"ONOOH (X molar excess)"}},
    "spec":{"width":119.5,"height":236.5,"layer":[
     {"transform":[{"filter":{"field":"k","equal":"s"}}],"mark":{"type":"rect","fill":"#d4d6d6"},"encoding":{"x":{"datum":-0.075,"type":"quantitative"},"x2":{"datum":0.975},"y":{"datum":2.7825,"type":"quantitative"},"y2":{"datum":3.0517}}},
     {"transform":[{"filter":{"field":"k","equal":"v"}}],"mark":{"type":"area","orient":"horizontal","fill":"#abb2a5","stroke":"#262626","strokeWidth":1.2,"interpolate":"monotone"},
      "encoding":{"x":{"field":"d","type":"quantitative","stack":"center","impute":null,"title":null,"scale":{"domain":[-0.0667,0.9667],"nice":false,"zero":false},"axis":{"values":[0.45],"labels":false,"ticks":true,"tickSize":5,"tickColor":"#000","tickWidth":1.2,"domain":true,"domainColor":"#000","domainWidth":1.5,"grid":false}},
       "y":{"field":"v","type":"quantitative","title":"Occupancy (%)","scale":{"domain":[-0.1325,3.0517],"nice":false,"zero":false},"axis":{"values":[0,1,2],"format":"d","grid":true,"gridColor":"#cccccc","domain":false,"tickSize":5,"tickColor":"#000","tickWidth":1.2,"labelFontSize":21,"labelColor":"#222","labelPadding":7,"titleFontSize":21,"titleFontWeight":"bold","titleColor":"#000","titlePadding":13,"titleY":128}}}},
     {"transform":[{"filter":{"field":"k","equal":"b"}}],"mark":{"type":"rule","color":"#262626","strokeWidth":1.2},"encoding":{"x":{"datum":0.45,"type":"quantitative"},"y":{"field":"lo","type":"quantitative","title":"Occupancy (%)"},"y2":{"field":"hi"}}},
     {"transform":[{"filter":{"field":"k","equal":"b"}}],"mark":{"type":"rect","fill":"white","stroke":"#262626","strokeWidth":1.2},"encoding":{"x":{"datum":0.35,"type":"quantitative"},"x2":{"datum":0.55},"y":{"field":"q1","type":"quantitative","title":"Occupancy (%)"},"y2":{"field":"q3"}}},
     {"transform":[{"filter":{"field":"k","equal":"b"}}],"mark":{"type":"rule","color":"#262626","strokeWidth":2.5},"encoding":{"x":{"datum":0.35,"type":"quantitative"},"x2":{"datum":0.55},"y":{"field":"med","type":"quantitative","title":"Occupancy (%)"}}},
     {"transform":[{"filter":{"field":"k","equal":"o"}}],"mark":{"type":"point","shape":"M0,-1L0,1M-1,0L1,0M-0.7,-0.7L0.7,0.7M-0.7,0.7L0.7,-0.7","size":64,"filled":false,"stroke":"#262626","strokeWidth":1,"opacity":1},"encoding":{"x":{"datum":0.45,"type":"quantitative"},"y":{"field":"v","type":"quantitative","title":"Occupancy (%)"}}},
     {"transform":[{"filter":{"field":"k","equal":"s"}},{"filter":{"field":"g","equal":"1"}}],"mark":{"type":"rule","color":"#000","strokeWidth":1.5},"encoding":{"x":{"datum":-0.0667,"type":"quantitative"},"y":{"datum":-0.1325,"type":"quantitative"},"y2":{"datum":2.7825}}},
     {"transform":[{"filter":{"field":"k","equal":"s"}},{"filter":{"field":"g","equal":"50"}}],"mark":{"type":"text","fontSize":21,"fontWeight":"bold","color":"#000","baseline":"middle","align":"center"},"encoding":{"x":{"datum":-0.0667,"type":"quantitative"},"y":{"datum":2.917,"type":"quantitative"},"text":{"field":"t"}}}
    ]}}
 ]}]}
],
"spacing":28
}
